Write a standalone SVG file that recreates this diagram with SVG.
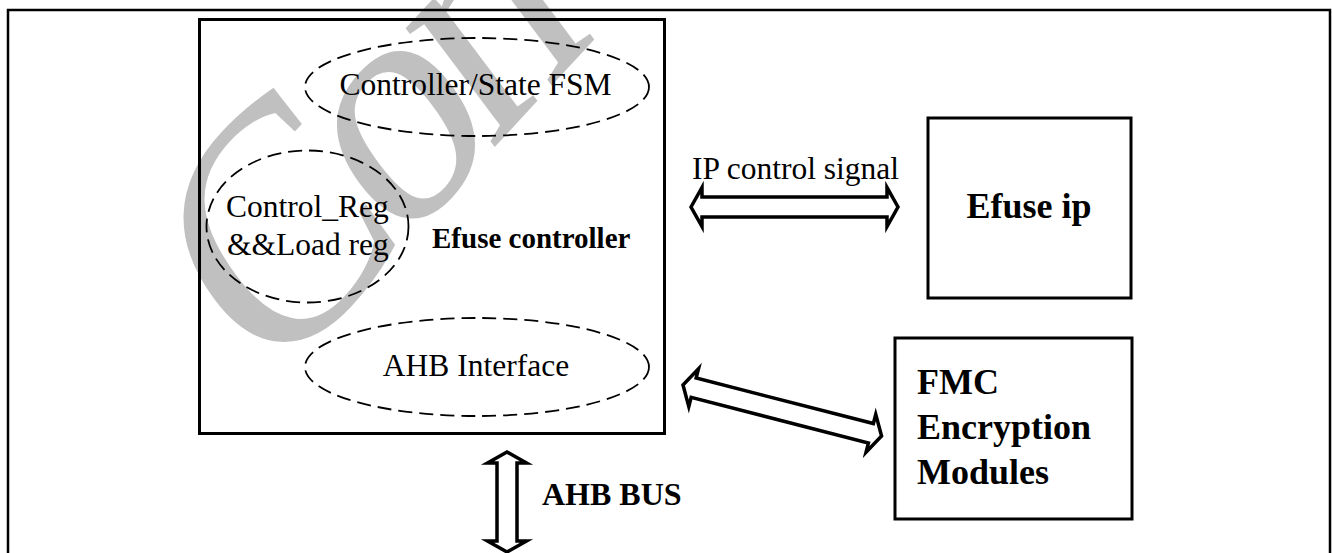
<svg xmlns="http://www.w3.org/2000/svg" width="1332" height="553" viewBox="0 0 1332 553">
  <style>
    .box { fill: none; stroke: #000; stroke-width: 3; }
    .frame { fill: none; stroke: #000; stroke-width: 2.5; }
    .blk { fill: none; stroke: #000; stroke-width: 1.8; stroke-dasharray: 14 7; }
    .arrow { fill: #fff; stroke: #000; stroke-width: 3.5; stroke-linejoin: miter; }
    .t { font-family: "Liberation Serif", "Times New Roman", serif; font-size: 31.5px; fill: #000; }
    .tb { font-family: "Liberation Serif", "Times New Roman", serif; font-weight: bold; fill: #000; }
    .wm { font-family: "Liberation Serif", "Times New Roman", serif; font-size: 290px; letter-spacing: -20px; fill: #c0c0c0; }
  </style>

  <rect width="1332" height="553" fill="#fff"/>

  <!-- background watermark -->
  <g id="watermark">
    <text class="wm" transform="translate(268,392) scale(1,1.2) rotate(-42)">Con</text>
  </g>

  <!-- outer frame -->
  <path class="frame" d="M8,553 V10 H1330 V553"/>

  <!-- controller block with its sub-blocks -->
  <g id="efuse-controller">
    <rect class="box" x="199.5" y="19.5" width="465" height="414"/>
    <text class="tb" x="432" y="248" font-size="29">Efuse controller</text>
  </g>

  <g id="fsm">
    <ellipse class="blk" cx="477" cy="87" rx="172" ry="49"/>
    <text class="t" x="475.5" y="95" text-anchor="middle">Controller/State FSM</text>
  </g>

  <g id="ctrl-reg">
    <ellipse class="blk" cx="307.5" cy="226.5" rx="101" ry="76"/>
    <text class="t" x="226" y="217">Control_Reg</text>
    <text class="t" x="227" y="255">&amp;&amp;Load reg</text>
  </g>

  <g id="ahb-if">
    <ellipse class="blk" cx="477" cy="367" rx="172" ry="49"/>
    <text class="t" x="476" y="376" text-anchor="middle">AHB Interface</text>
  </g>

  <g id="efuse-ip">
    <rect class="box" x="928" y="118" width="203" height="180"/>
    <text class="tb" x="966.5" y="218" font-size="36">Efuse ip</text>
  </g>

  <g id="fmc">
    <rect class="box" x="895" y="338" width="237" height="181"/>
    <text class="tb" x="917" y="394" font-size="36">FMC</text>
    <text class="tb" x="917" y="439" font-size="36">Encryption</text>
    <text class="tb" x="917" y="484" font-size="36">Modules</text>
  </g>

  <!-- connectors: double-headed block arrows -->
  <g id="connectors">
    <g id="ip-ctrl-link">
      <polygon class="arrow" points="691,207 702,187.5 702,197 887,197 887,187.5 898,207 887,226.5 887,217 702,217 702,226.5"/>
      <text class="t" x="692" y="179">IP control signal</text>
    </g>
    <g id="fmc-link" transform="translate(683,385) rotate(14.4)">
      <polygon class="arrow" points="0,0 11,-19.5 11,-10 194,-10 194,-19.5 205,0 194,19.5 194,10 11,10 11,19.5"/>
    </g>
    <g id="ahb-bus">
      <g transform="translate(507,452) rotate(90)">
        <polygon class="arrow" points="0,0 11,-19.5 11,-10 89,-10 89,-19.5 100,0 89,19.5 89,10 11,10 11,19.5"/>
      </g>
      <text class="tb" x="542" y="505" font-size="32">AHB BUS</text>
    </g>
  </g>
</svg>
